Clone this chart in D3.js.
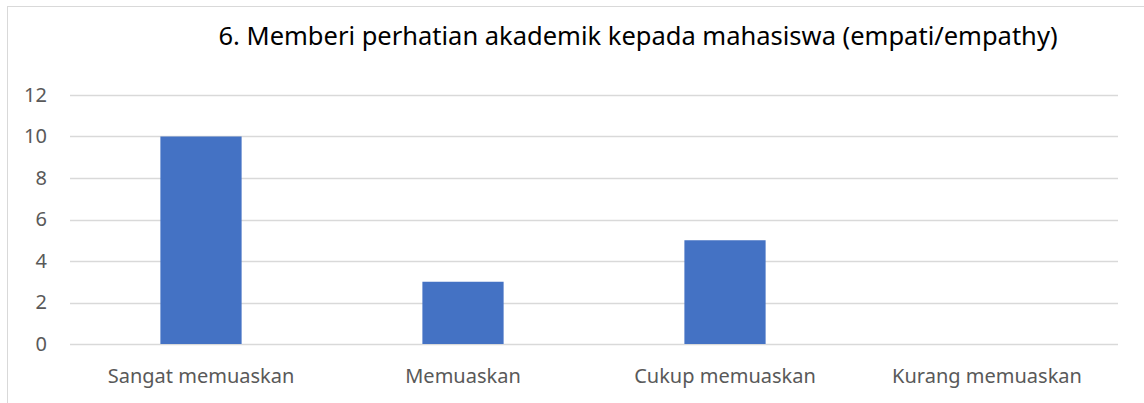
<!DOCTYPE html>
<html>
<head>
<meta charset="utf-8">
<script src="https://cdn.jsdelivr.net/npm/d3@7"></script>
<style>
  body { margin: 0; background: #fff; }
  text { font-family: "Noto Sans", "Open Sans", sans-serif; }
</style>
</head>
<body>
<div id="chart"></div>
<script>
// data
const categories = ["Sangat memuaskan", "Memuaskan", "Cukup memuaskan", "Kurang memuaskan"];
const counts = [10, 3, 5, 0];
const yTicks = [0, 2, 4, 6, 8, 10, 12];
const title = "6. Memberi perhatian akademik kepada mahasiswa (empati/empathy)";

const W = 1144, H = 403;
const margin = { top: 95, right: 26, bottom: 59, left: 70 };
const width = W - margin.left - margin.right,
      height = H - margin.top - margin.bottom;

const svg = d3.select("#chart").append("svg")
    .attr("width", W)
    .attr("height", H);

// chart area frame (runs off the right/bottom edge)
svg.append("rect")
    .attr("x", 7.5).attr("y", 6.5)
    .attr("width", W + 10).attr("height", H + 10)
    .attr("fill", "none")
    .attr("stroke", "#d9d9d9");

const g = svg.append("g")
    .attr("transform", `translate(${margin.left},${margin.top})`);

const xScale = d3.scaleBand().domain(categories).range([0, width]).paddingInner(0.69).paddingOuter(0.345);
const yScale = d3.scaleLinear().domain([0, 12]).range([height, 0]);

// gridlines
g.selectAll("line.grid")
    .data(yTicks)
    .join("line")
    .attr("class", "grid")
    .attr("x1", 0).attr("x2", width)
    .attr("y1", d => Math.round(yScale(d)) + 0.5)
    .attr("y2", d => Math.round(yScale(d)) + 0.5)
    .attr("stroke", "#d9d9d9")
    .attr("stroke-width", 1.5);

// bars
g.selectAll("rect.bar")
    .data(categories.map((c, i) => ({ c, v: counts[i] })))
    .join("rect")
    .attr("class", "bar")
    .attr("x", d => xScale(d.c))
    .attr("y", d => yScale(d.v))
    .attr("width", xScale.bandwidth())
    .attr("height", d => yScale(0) - yScale(d.v))
    .attr("fill", "#4472c4");

// y axis labels
const yAxis = d3.axisLeft(yScale).tickValues(yTicks).tickSize(0).tickPadding(23);
const ya = g.append("g").call(yAxis);
ya.select(".domain").remove();
ya.selectAll("text").attr("fill", "#595959").attr("font-size", 20);

// x axis labels
const xAxis = d3.axisBottom(xScale.copy().paddingInner(0).paddingOuter(0)).tickSize(0).tickPadding(25);
const xa = g.append("g").attr("transform", `translate(0,${height})`).call(xAxis);
xa.select(".domain").remove();
xa.selectAll("text").attr("fill", "#595959").attr("font-size", 20);

// title
svg.append("text")
    .attr("x", 638)
    .attr("y", 45)
    .attr("text-anchor", "middle")
    .attr("fill", "#000")
    .attr("font-size", 25.5)
    .text(title);
</script>
</body>
</html>
